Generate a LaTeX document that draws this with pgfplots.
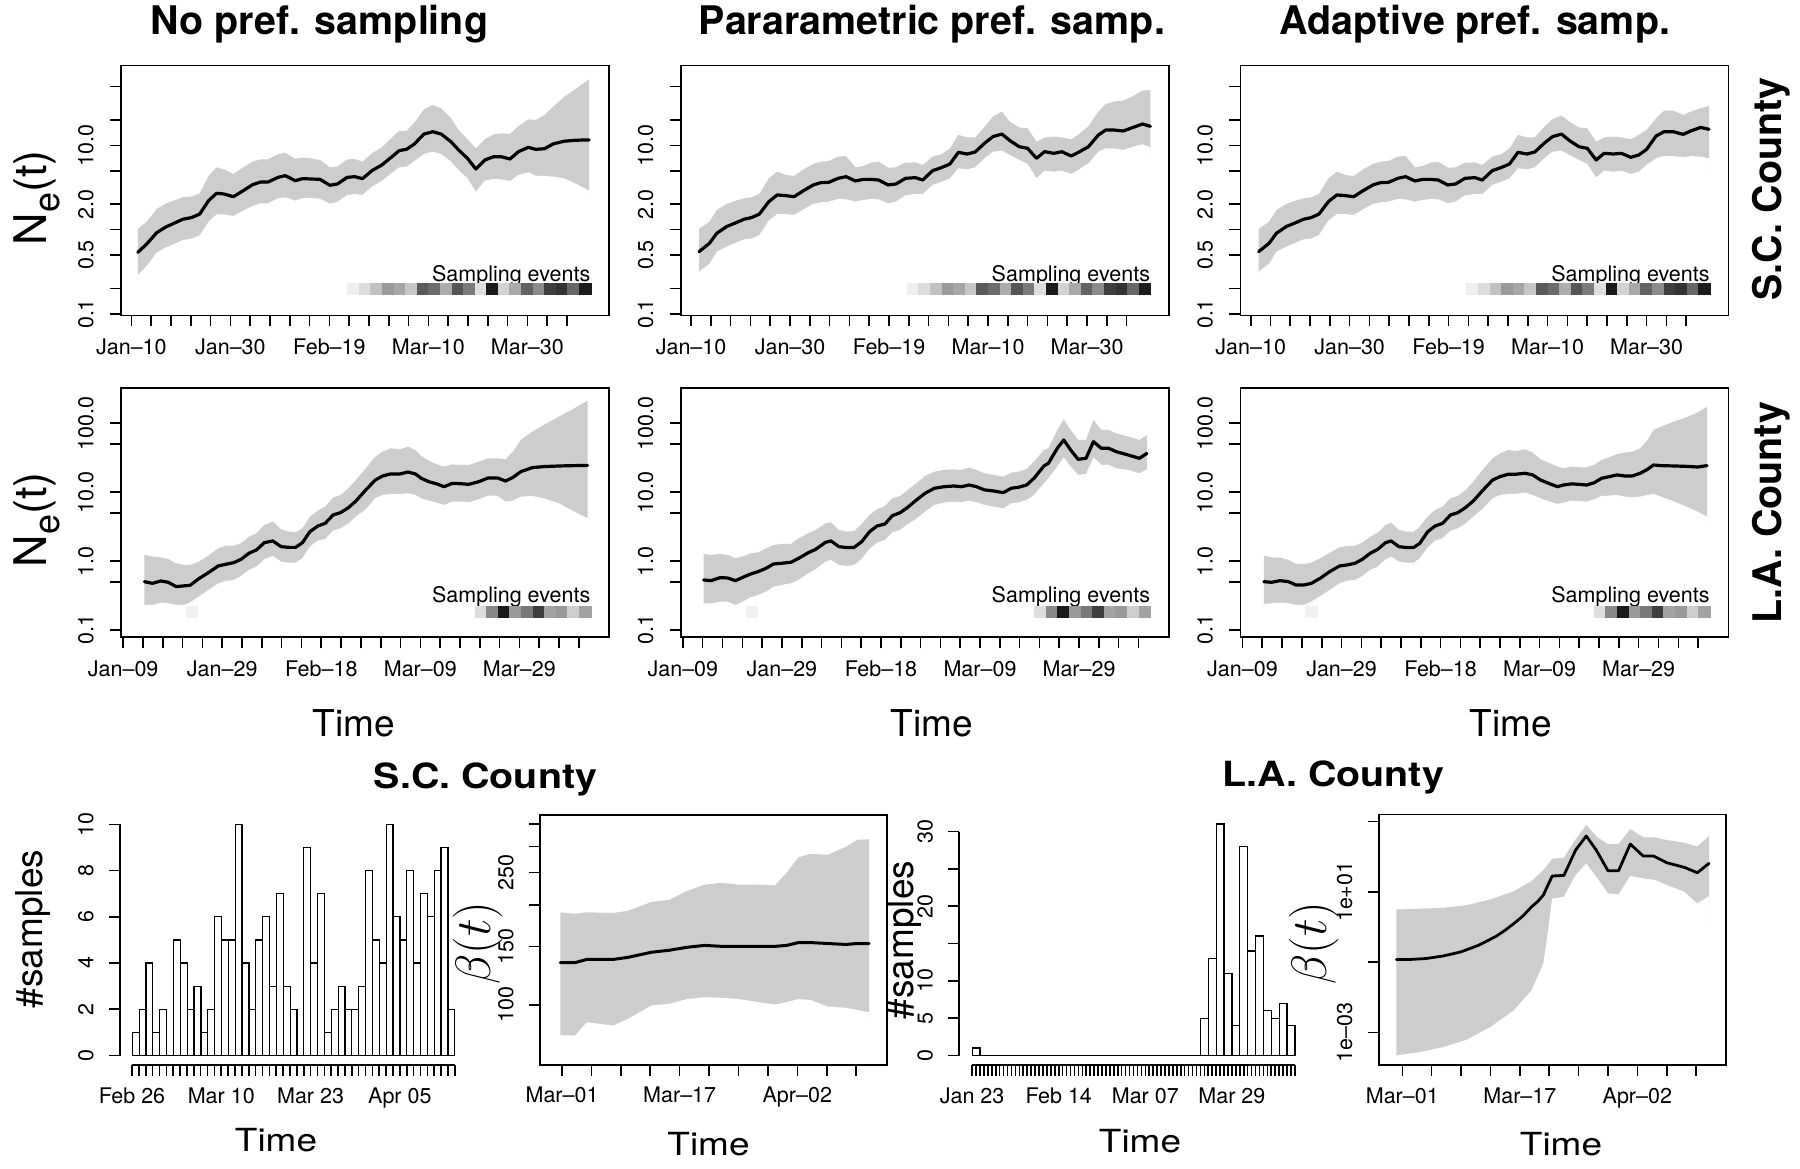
\documentclass[border=0pt]{standalone}
\usepackage{fontspec}
\setmainfont{TeX Gyre Heros}
\usepackage{pgfplots}
\pgfplotsset{compat=1.18}
\usepackage{pgfplotstable}
\pgfkeys{/pgf/number format/assume math mode=true}
\pgfplotsset{colormap={bw}{gray(0cm)=(0); gray(1cm)=(1)}}
\definecolor{band}{RGB}{205,205,205}
\newcommand{\tickfont}{\fontsize{10.75}{12}\selectfont}
\newcommand{\labfont}{\fontsize{18.5}{20}\selectfont}
\newcommand{\titfont}{\fontsize{19.7}{22}\selectfont\bfseries}
\newcommand{\nelabel}{\fontsize{22.5}{24}\selectfont N\raisebox{-0.28em}{\fontsize{18}{19}\selectfont e}(t)}

\pgfplotsset{
  rbase/.style={
    scale only axis,
    axis line style={line width=0.8pt},
    tick style={black, line width=0.8pt},
    xtick pos=left, ytick pos=left,
    major tick length=5.5pt,
    minor tick length=5.5pt,
    ticklabel style={font=\tickfont, inner sep=0pt},
    tick align=outside,
  },
  xlab/.style={xticklabel style={anchor=base, yshift=-#1}},
  ylab/.style={yticklabel style={xshift=-#1, rotate=90, anchor=base}},
  ne1/.style={rbase, width=244pt, height=124.9pt, axis on top,
    xmin=7.9, xmax=106.5, ymin=0.096, ymax=88,
    xtick={10,30,50,70,90}, xticklabels={Jan--10,Jan--30,Feb--19,Mar--10,Mar--30},
    minor xtick={14,18,22,26,34,38,42,46,54,58,62,66,74,78,82,86,94,98},
    ytick={0.1,0.5,2,10}, yticklabels={0.1,0.5,2.0,10.0}, minor ytick={0.2,1,5,20,50},
    xlab=14pt, ylab=8.35pt},
  ne2/.style={rbase, width=244pt, height=124.5pt, axis on top,
    xmin=8.56, xmax=107.1, ymin=0.0783, ymax=322,
    xtick={9,29,49,69,89}, xticklabels={Jan--09,Jan--29,Feb--18,Mar--09,Mar--29},
    minor xtick={13,17,21,25,33,37,41,45,53,57,61,65,73,77,81,85,93,97,101},
    ytick={0.1,1,10,100}, yticklabels={0.1,1.0,10.0,100.0}, minor ytick={0.5,5,50},
    xlab=14pt, ylab=8.35pt},
  meanline/.style={black, line width=1.6pt, line join=round, line cap=round},
  bandhi/.style={fill=band, draw=none},
  bandlo/.style={fill=white, draw=none},
  strip/.style={scatter, only marks, mark=square*, mark size=2.9pt, point meta=explicit,
    point meta min=0, point meta max=1,
    scatter/use mapped color={draw=mapped color, fill=mapped color}, mark options={line width=0.1pt}},
  noarrows/.style={axis line style={-}, every outer x axis line/.append style={-},
    every outer y axis line/.append style={-}, every inner x axis line/.append style={-},
    every inner y axis line/.append style={-}},
}

% Columns: d = day of year 2020, m = posterior median, lo/hi = 95% band.
% Rows holding nan only close the shaded band (hi) and its white underside (lo) below the bottom edge.

% ---------- S.C. County, no preferential sampling ----------
\pgfplotstableread{
d m lo hi
9.8 nan 0.05 nan
11.3 nan nan 0.05
11.3 0.538 0.290 1.02
13.1 0.676 0.371 1.24
15.1 0.92 0.533 1.76
17.0 1.08 0.618 2.05
18.6 1.19 0.676 2.21
20.4 1.33 0.753 2.42
22.1 1.39 0.782 2.46
23.8 1.53 0.857 2.70
25.6 2.21 1.24 4.33
27.2 2.70 1.52 5.48
28.7 2.65 1.52 5.19
30.6 2.46 1.45 4.57
32.6 2.90 1.68 5.48
34.5 3.42 1.91 6.40
36.1 3.67 2.05 6.82
37.6 3.67 2.05 6.82
39.6 4.17 2.35 7.82
41.1 4.37 2.42 8.18
43.1 3.81 2.21 6.95
44.6 4.03 2.37 7.14
46.3 3.99 2.37 7.01
48.1 3.95 2.33 6.70
50.1 3.36 2.03 5.48
51.6 3.48 2.13 5.58
53.6 4.17 2.58 6.82
55.1 4.25 2.65 6.89
56.7 4.03 2.58 6.40
58.6 5.01 3.24 8.04
60.6 5.85 3.78 9.47
62.5 7.21 4.66 12.1
64.1 8.65 5.48 14.8
65.6 8.97 5.58 14.9
67.2 10.4 6.52 18.6
69.1 13.6 7.89 26.7
70.9 14.5 8.41 30.1
72.6 13.6 7.89 27.5
74.6 11.0 6.40 20.9
76.1 8.81 5.10 15.2
77.9 7.01 4.06 11.8
79.6 5.24 2.82 9.21
81.4 6.70 3.81 11.8
83.2 7.34 3.99 13.5
84.7 7.34 3.95 13.9
86.5 6.89 3.78 13.6
88.2 8.41 4.45 16.9
90.2 9.47 4.79 20.3
91.7 8.97 4.37 20.0
93.5 9.12 4.33 22.9
95.2 10.4 4.25 28.7
97.5 11.2 4.06 37.8
99.9 11.5 3.48 47.4
102.5 11.6 2.90 60.6
102.5 nan nan 0.05
104.0 nan 0.05 nan
}\tA

% ---------- S.C. County, parametric ----------
\pgfplotstableread{
d m lo hi
10.1 nan 0.05 nan
11.6 nan nan 0.05
11.6 0.548 0.318 1.02
13.7 0.689 0.392 1.24
15.2 0.906 0.548 1.71
17.2 1.09 0.629 2.02
19.1 1.21 0.701 2.21
20.7 1.33 0.768 2.35
22.2 1.39 0.782 2.42
23.8 1.53 0.865 2.65
25.7 2.15 1.28 4.06
27.4 2.58 1.53 4.87
29.2 2.53 1.53 4.45
30.8 2.46 1.49 4.33
32.7 2.90 1.74 5.19
34.7 3.39 2.02 6.01
36.2 3.61 2.11 6.40
37.8 3.64 2.15 6.52
39.7 4.06 2.31 7.34
41.3 4.25 2.29 7.47
43.2 3.78 2.15 5.48
44.8 3.95 2.25 5.69
46.3 3.95 2.31 6.23
47.9 3.88 2.29 6.40
49.8 3.39 2.05 5.43
51.4 3.48 2.15 5.48
53.3 4.06 2.55 6.23
55.3 4.14 2.65 6.28
56.8 3.88 2.63 5.85
58.8 5.01 3.39 7.34
60.7 5.48 3.71 7.89
62.3 6.01 4.06 9.21
64.0 8.26 5.34 13.3
65.8 7.89 5.19 12.4
67.4 8.34 5.48 12.4
69.3 10.6 7.01 16.6
71.0 12.7 8.41 21.9
72.8 13.6 8.65 25.1
74.4 11.4 7.68 19.1
76.3 9.64 6.70 16.3
78.0 9.21 6.01 15.9
79.8 7.01 4.06 11.0
81.4 8.41 5.01 12.4
83.3 8.04 4.87 12.7
84.9 8.41 5.01 12.4
86.8 7.47 4.57 11.8
88.4 8.34 5.19 13.6
90.3 9.64 6.12 16.9
92.3 13.3 8.41 25.1
93.8 15.2 9.21 30.9
95.4 15.2 9.21 33.0
97.3 14.8 8.81 33.9
99.3 16.3 9.64 38.5
101.2 17.9 10.3 44.5
102.8 16.8 9.47 45.3
102.8 nan nan 0.05
104.3 nan 0.05 nan
}\tB

% ---------- S.C. County, adaptive ----------
\pgfplotstableread{
d m lo hi
10.1 nan 0.05 nan
11.6 nan nan 0.05
11.6 0.548 0.318 1.02
13.7 0.689 0.392 1.24
15.2 0.906 0.548 1.71
17.2 1.09 0.629 2.02
19.1 1.21 0.701 2.21
20.7 1.33 0.768 2.35
22.2 1.39 0.782 2.42
23.8 1.53 0.865 2.65
25.7 2.15 1.28 4.06
27.4 2.58 1.53 4.87
29.2 2.53 1.53 4.45
30.8 2.46 1.49 4.33
32.7 2.90 1.74 5.19
34.7 3.39 2.02 6.01
36.2 3.61 2.11 6.40
37.8 3.64 2.15 6.52
39.7 4.06 2.31 7.34
41.3 4.25 2.29 7.47
43.2 3.78 2.15 5.48
44.8 3.95 2.25 5.69
46.3 3.95 2.31 6.23
47.9 3.88 2.29 6.40
49.8 3.39 2.05 5.43
51.4 3.48 2.15 5.48
53.3 4.06 2.55 6.23
55.3 4.14 2.65 6.28
56.8 3.88 2.63 5.85
58.8 5.01 3.39 7.34
60.7 5.48 3.71 7.89
62.3 6.01 4.06 9.21
64.0 8.26 5.34 13.3
65.8 7.89 5.19 12.4
67.4 8.34 5.48 12.4
69.3 10.6 7.01 16.6
71.0 12.7 8.41 20.5
72.8 13.6 8.65 22.5
74.4 11.4 7.68 19.1
76.3 9.64 6.70 16.3
78.0 9.21 6.01 15.9
79.8 6.70 4.14 11.0
81.4 8.04 5.01 12.4
83.3 7.89 4.87 12.7
84.9 8.04 5.01 12.4
86.8 7.21 4.57 11.8
88.4 7.68 4.87 13.3
90.0 8.97 5.85 15.2
91.9 12.9 7.01 20.9
93.5 14.5 7.47 25.8
95.4 14.5 7.47 25.8
97.4 13.5 7.21 22.9
98.9 14.8 7.47 25.1
100.9 16.3 7.34 27.5
102.6 15.5 7.01 29.3
102.6 nan nan 0.05
104.1 nan 0.05 nan
}\tC

% ---------- L.A. County, no preferential sampling ----------
\pgfplotstableread{
d m lo hi
11.8 nan 0.05 nan
13.3 nan nan 0.05
13.3 0.502 0.231 1.23
14.9 0.475 0.231 1.16
16.6 0.514 0.250 1.13
18.1 0.492 0.244 1.07
19.7 0.426 0.231 0.929
21.2 0.436 0.231 0.877
22.5 0.445 0.250 0.877
24.3 0.556 0.305 0.982
26.2 0.679 0.381 1.20
28.2 0.849 0.475 1.53
29.7 0.898 0.514 1.67
31.3 0.948 0.532 1.67
32.8 1.06 0.608 1.81
34.4 1.30 0.743 2.26
35.9 1.45 0.830 2.53
37.5 1.85 1.06 3.34
39.2 1.96 1.19 3.74
40.9 1.62 0.982 2.89
42.5 1.58 0.948 2.67
43.8 1.58 0.948 2.62
45.2 1.85 1.10 2.99
46.7 2.67 1.62 4.42
48.3 3.23 1.98 5.40
49.8 3.53 2.09 6.17
51.4 4.67 2.77 8.33
52.9 5.05 2.99 9.11
54.5 5.97 3.53 11.4
56.0 7.45 4.42 15.0
58.0 10.8 5.64 22.2
59.9 15.0 8.15 32.8
61.4 17.2 9.11 38.7
63.0 18.4 9.42 43.3
64.9 18.4 9.42 41.9
66.5 19.6 9.63 45.8
68.0 18.4 9.11 41.0
69.2 15.9 8.15 33.5
70.7 14.2 7.54 28.7
72.3 13.2 7.05 25.4
73.8 12.0 6.52 23.5
75.4 13.4 7.29 25.4
76.9 13.3 7.29 24.8
78.8 13.0 7.13 24.8
80.8 14.2 7.88 27.7
82.7 16.1 8.91 31.0
84.6 16.1 8.91 31.0
86.2 14.5 7.29 30.0
87.7 16.4 7.54 38.7
89.3 19.9 8.61 57.3
91.6 22.7 8.81 75.6
93.9 23.5 8.15 94.5
97.0 24.0 6.89 125
100.1 24.3 5.21 165
102.8 24.5 4.18 213
102.8 nan nan 0.05
104.3 nan 0.05 nan
}\tD

% ---------- L.A. County, parametric ----------
\pgfplotstableread{
d m lo hi
11.7 nan 0.05 nan
13.2 nan nan 0.05
13.2 0.532 0.244 1.27
14.7 0.520 0.244 1.23
16.5 0.575 0.258 1.27
18.0 0.569 0.258 1.23
19.6 0.520 0.231 1.10
21.1 0.581 0.258 1.16
22.7 0.650 0.298 1.30
24.2 0.703 0.322 1.34
25.8 0.785 0.360 1.53
27.3 0.908 0.426 1.71
28.9 0.929 0.450 1.77
30.8 0.959 0.475 1.77
32.4 1.10 0.532 2.14
34.3 1.32 0.664 2.53
35.8 1.48 0.760 2.83
37.8 1.87 0.982 3.53
38.9 1.96 1.04 3.65
40.5 1.62 0.877 2.83
42.0 1.57 0.849 2.67
43.6 1.58 0.877 2.73
45.1 1.91 1.07 3.45
46.7 2.67 1.50 4.67
48.2 3.23 1.85 5.64
49.8 3.45 2.02 6.31
51.3 4.56 2.62 8.15
52.9 5.05 2.83 8.81
54.4 6.03 3.45 10.8
56.0 7.54 4.04 13.2
57.9 9.63 5.21 17.2
59.8 11.4 6.52 19.9
61.7 12.0 7.05 21.0
63.7 12.3 7.29 21.5
65.2 12.0 7.13 21.0
66.8 12.7 7.54 22.7
68.3 12.0 7.13 21.0
69.9 10.8 6.52 18.8
71.8 10.4 6.17 17.8
73.7 9.84 5.83 16.8
75.3 11.4 6.89 19.2
76.8 11.8 7.13 19.9
78.4 12.7 7.71 21.7
79.9 15.9 9.11 27.7
81.9 24.0 13.4 41.0
82.8 26.2 15.9 43.3
84.6 43.3 23.5 80.0
85.9 57.3 32.1 114
87.3 41.0 23.5 80.0
88.8 30.0 17.8 57.3
90.4 31.0 18.4 57.3
91.9 54.1 32.1 112
93.5 43.3 24.8 80.0
95.0 43.3 24.8 80.0
96.5 38.7 22.2 71.5
98.9 34.7 21.0 64.0
101.2 31.0 18.8 57.3
102.7 36.6 21.5 67.6
102.7 nan nan 0.05
104.2 nan 0.05 nan
}\tE

% ---------- L.A. County, adaptive ----------
\pgfplotstableread{
d m lo hi
11.8 nan 0.05 nan
13.3 nan nan 0.05
13.3 0.502 0.238 1.19
14.9 0.492 0.244 1.13
16.6 0.520 0.250 1.12
18.3 0.502 0.244 1.04
19.8 0.450 0.231 0.908
21.4 0.450 0.231 0.908
22.9 0.475 0.258 0.948
24.7 0.562 0.311 1.10
26.6 0.703 0.381 1.32
28.6 0.849 0.475 1.58
30.1 0.877 0.520 1.66
31.7 0.929 0.532 1.67
33.2 1.06 0.608 1.85
34.8 1.30 0.743 2.26
36.3 1.48 0.830 2.59
37.9 1.85 1.06 3.34
39.0 1.96 1.16 3.61
40.6 1.62 0.982 2.83
42.1 1.57 0.948 2.67
43.6 1.58 0.948 2.67
44.8 1.81 1.10 3.16
46.4 2.67 1.58 4.42
47.9 3.23 1.98 5.52
49.4 3.53 2.14 6.17
51.0 4.67 2.77 8.15
52.5 5.05 2.99 8.81
54.1 6.03 3.53 10.8
55.6 7.45 4.42 14.2
57.6 10.8 5.83 21.5
59.5 15.0 8.15 31.0
61.0 16.8 9.11 36.6
62.6 18.2 9.42 41.0
64.1 18.2 9.42 39.6
66.1 18.8 9.84 41.9
67.6 17.8 9.11 37.5
69.2 15.0 8.15 30.0
71.1 13.2 7.29 26.2
72.6 12.0 6.74 23.5
73.8 12.7 7.05 22.2
75.4 13.2 7.54 23.5
76.9 13.0 7.45 23.0
78.5 12.7 7.29 23.0
80.0 13.7 7.88 24.8
81.5 15.9 8.81 29.3
83.1 16.8 8.91 32.1
84.6 17.8 9.11 35.8
86.2 17.2 8.61 37.5
87.7 17.2 8.43 38.7
89.3 18.8 8.61 43.3
90.8 21.5 9.11 57.3
92.0 24.8 9.42 80.0
93.5 24.3 8.61 89.3
96.2 24.0 7.29 106
98.6 23.7 6.17 122
100.9 23.2 5.21 143
102.8 24.3 4.42 174
102.8 nan nan 0.05
104.3 nan 0.05 nan
}\tF

% ---------- sampling-event strips (gray level 0 = black, 1 = white) ----------
\pgfplotstableread{
d y c
54.79 0.2 0.93
57.13 0.2 0.86
59.47 0.2 0.75
61.82 0.2 0.60
64.16 0.2 0.65
66.50 0.2 0.77
68.84 0.2 0.35
71.18 0.2 0.42
73.53 0.2 0.67
75.87 0.2 0.33
78.21 0.2 0.48
80.55 0.2 0.87
82.90 0.2 0.10
85.24 0.2 0.82
87.58 0.2 0.66
89.92 0.2 0.38
92.26 0.2 0.54
94.61 0.2 0.24
96.95 0.2 0.20
99.29 0.2 0.40
101.63 0.2 0.11
}\sSC
\pgfplotstableread{
d y c
22.85 0.185 0.94
81.14 0.185 0.86
83.48 0.185 0.53
85.83 0.185 0.10
88.17 0.185 0.60
90.51 0.185 0.47
92.86 0.185 0.24
95.20 0.185 0.63
97.54 0.185 0.60
99.89 0.185 0.80
102.23 0.185 0.63
}\sLA

% ---------- beta(t), S.C. County (days since Mar-01) ----------
\pgfplotstableread{
d m lo hi
-0.74 nan 60 nan
-0.24 nan nan 60
-0.24 134 81 190
1.76 134 80.8 188
3.36 137 88.6 190
6.96 137 86.6 189
8.96 139 90.7 192
12.16 144 99.5 204
14.56 146 100.7 207
16.96 149 104 220
19.36 151 105.4 230
21.76 150 105 233
24.16 150 104 230
26.56 150 102 230
28.96 150 100.2 229
30.56 151 102 250
32.16 154 104 278
33.76 154 103.5 285
36.16 153 98.8 283
38.56 152 98 299
40.16 153 96.5 314
41.76 153 95 315
41.76 nan nan 60
42.26 nan 60 nan
}\bSC

% ---------- beta(t), L.A. County ----------
\pgfplotstableread{
d m
-0.8 0.119
0.8 0.119
3.2 0.127
5.6 0.151
8.0 0.197
10.4 0.304
12.8 0.548
14.0 0.81
15.2 1.26
16.4 2.03
17.6 3.74
18.4 5.2
19.2 8.04
20.4 27.9
22.0 29.1
23.6 153
25.04 383
26.4 153
28.0 39.5
29.44 39.5
31.04 226
32.8 103
34.24 103
36.0 66.8
38.4 49.2
40.16 34.7
41.76 64
}\bLAm
\pgfplotstableread{
d lo hi
-1.3 1e-4 nan
-0.8 nan 1e-4
-0.8 2.26e-4 3.15
2.4 2.82e-4 3.29
5.6 3.91e-4 3.51
8.8 6.32e-4 4.18
12.0 1.45e-3 6.05
15.2 4.32e-3 10.4
17.6 0.016 20.1
19.2 0.0916 41.3
19.84 0.81 60
20.4 6.46 86.7
22.0 7.21 92.7
23.6 29.8 308
25.04 64 787
26.56 23.9 351
28.0 8.97 226
29.44 8.39 226
31.04 27.9 605
32.8 23.9 351
34.4 21.5 351
36.0 15.5 294
38.4 10.0 247
40.16 4.66 191
41.76 7.53 383
41.76 nan 1e-4
42.26 1e-4 nan
}\bLAb

\begin{document}
\begin{tikzpicture}
\path[use as bounding box, fill=white] (0pt,0pt) rectangle (900pt,584pt);

% ===== Row 1: S.C. County =====
\begin{axis}[ymode=log, ne1, at={(60.5pt,426.25pt)}, anchor=south west]
  \addplot[bandhi] table[x=d,y=hi]{\tA};
  \addplot[bandlo] table[x=d,y=lo]{\tA};
  \addplot[meanline] table[x=d,y=m]{\tA};
  \addplot[strip] table[x=d,y=y,meta=c]{\sSC};
  \node[anchor=base east, font=\tickfont, inner sep=0pt] at (axis cs:102.8,0.2415) {Sampling events};
\end{axis}
\begin{axis}[ymode=log, ne1, at={(340.35pt,426.25pt)}, anchor=south west]
  \addplot[bandhi] table[x=d,y=hi]{\tB};
  \addplot[bandlo] table[x=d,y=lo]{\tB};
  \addplot[meanline] table[x=d,y=m]{\tB};
  \addplot[strip] table[x=d,y=y,meta=c]{\sSC};
  \node[anchor=base east, font=\tickfont, inner sep=0pt] at (axis cs:102.8,0.2415) {Sampling events};
\end{axis}
\begin{axis}[ymode=log, ne1, at={(620.15pt,426.25pt)}, anchor=south west]
  \addplot[bandhi] table[x=d,y=hi]{\tC};
  \addplot[bandlo] table[x=d,y=lo]{\tC};
  \addplot[meanline] table[x=d,y=m]{\tC};
  \addplot[strip] table[x=d,y=y,meta=c]{\sSC};
  \node[anchor=base east, font=\tickfont, inner sep=0pt] at (axis cs:102.8,0.2415) {Sampling events};
\end{axis}

% ===== Row 2: L.A. County =====
\begin{axis}[ymode=log, ne2, at={(60.5pt,265.35pt)}, anchor=south west]
  \addplot[bandhi] table[x=d,y=hi]{\tD};
  \addplot[bandlo] table[x=d,y=lo]{\tD};
  \addplot[meanline] table[x=d,y=m]{\tD};
  \addplot[strip] table[x=d,y=y,meta=c]{\sLA};
  \node[anchor=base east, font=\tickfont, inner sep=0pt] at (axis cs:103.4,0.252) {Sampling events};
\end{axis}
\begin{axis}[ymode=log, ne2, at={(340.35pt,265.35pt)}, anchor=south west]
  \addplot[bandhi] table[x=d,y=hi]{\tE};
  \addplot[bandlo] table[x=d,y=lo]{\tE};
  \addplot[meanline] table[x=d,y=m]{\tE};
  \addplot[strip] table[x=d,y=y,meta=c]{\sLA};
  \node[anchor=base east, font=\tickfont, inner sep=0pt] at (axis cs:103.4,0.252) {Sampling events};
\end{axis}
\begin{axis}[ymode=log, ne2, at={(620.15pt,265.35pt)}, anchor=south west]
  \addplot[bandhi] table[x=d,y=hi]{\tF};
  \addplot[bandlo] table[x=d,y=lo]{\tF};
  \addplot[meanline] table[x=d,y=m]{\tF};
  \addplot[strip] table[x=d,y=y,meta=c]{\sLA};
  \node[anchor=base east, font=\tickfont, inner sep=0pt] at (axis cs:103.4,0.252) {Sampling events};
\end{axis}

% ===== Bottom row: S.C. County samples =====
\begin{axis}[rbase, at={(60pt,56.25pt)}, anchor=south west,
  width=167.4pt, height=115.6pt, xmin=-1.79, xmax=47, ymin=0, ymax=10,
  axis x line=none, axis y line=left, noarrows, tick align=outside,
  ytick={0,2,4,6,8,10}, ylab=7.85pt, clip=false]
  \addplot[ybar interval, fill=white, draw=black, line width=0.6pt] coordinates {
  (0,1)(1,2)(2,4)(3,1)(4,2)(5,0)(6,5)(7,4)(8,2)(9,3)(10,1)(11,2)(12,6)(13,5)(14,5)(15,10)
  (16,4)(17,2)(18,5)(19,6)(20,3)(21,7)(22,3)(23,2)(24,0)(25,9)(26,4)(27,7)(28,1)(29,2)
  (30,3)(31,2)(32,2)(33,3)(34,8)(35,5)(36,4)(37,10)(38,6)(39,5)(40,8)(41,4)(42,7)(43,6)
  (44,8)(45,9)(46,2)(47,0)};
\end{axis}
\begin{axis}[rbase, at={(66pt,51.5pt)}, anchor=south west, width=161.4pt, height=10pt,
  xmin=0, xmax=47, ymin=0, ymax=1, axis y line=none, axis x line=bottom, noarrows, tick align=outside,
  xtick={0,13,26,39}, xticklabels={Feb 26,Mar 10,Mar 23,Apr 05}, minor xtick={0,1,...,47},
  xlab=13.5pt]
  \addplot[draw=none] coordinates {(0,0)};
\end{axis}

% ===== Bottom row: S.C. County beta =====
\begin{axis}[ymode=log, rbase, axis on top, at={(270pt,51.5pt)}, anchor=south west, width=173.5pt, height=125pt,
  xmin=-3.0, xmax=44.2, ymin=65.9, ymax=373,
  xtick={0,16,32}, xticklabels={Mar--01,Mar--17,Apr--02}, minor xtick={4,8,12,20,24,28,36,40},
  ytick={100,150,250}, yticklabels={100,150,250}, minor ytick={200,300,350},
  xlab=13.5pt, ylab=7.85pt]
  \addplot[bandhi] table[x=d,y=hi]{\bSC};
  \addplot[bandlo] table[x=d,y=lo]{\bSC};
  \addplot[meanline, line width=1.5pt] table[x=d,y=m]{\bSC};
\end{axis}

% ===== Bottom row: L.A. County samples =====
\begin{axis}[rbase, at={(479.6pt,56.25pt)}, anchor=south west,
  width=167.85pt, height=112pt, xmin=-3.28, xmax=82, ymin=0, ymax=30,
  axis x line=none, axis y line=left, noarrows, tick align=outside,
  ytick={0,5,10,20,30}, minor ytick={15,25}, ylab=7.85pt, clip=false]
  \addplot[ybar interval, fill=white, draw=black, line width=0.6pt] coordinates {
  (0,1)(2,0)(4,0)(6,0)(8,0)(10,0)(12,0)(14,0)(16,0)(18,0)(20,0)(22,0)(24,0)(26,0)(28,0)
  (30,0)(32,0)(34,0)(36,0)(38,0)(40,0)(42,0)(44,0)(46,0)(48,0)(50,0)(52,0)(54,0)(56,0)
  (58,5)(60,13)(62,31)(64,11)(66,4)(68,28)(70,14)(72,16)(74,6)(76,5)(78,7)(80,4)(82,0)};
\end{axis}
\begin{axis}[rbase, at={(486.05pt,51.5pt)}, anchor=south west, width=161.4pt, height=10pt,
  xmin=0, xmax=82, ymin=0, ymax=1, axis y line=none, axis x line=bottom, noarrows, tick align=outside,
  xtick={0,22,44,66}, xticklabels={Jan 23,Feb 14,Mar 07,Mar 29}, minor xtick={0,1,...,82},
  xlab=13.5pt]
  \addplot[draw=none] coordinates {(0,0)};
\end{axis}

% ===== Bottom row: L.A. County beta =====
\begin{axis}[ymode=log, rbase, axis on top, at={(689.4pt,51.5pt)}, anchor=south west, width=173.7pt, height=125.35pt,
  xmin=-3.2, xmax=44.1, ymin=1.21e-4, ymax=1580,
  xtick={0,16,32}, xticklabels={Mar--01,Mar--17,Apr--02}, minor xtick={4,8,12,20,24,28,36,40},
  ytick={1e-3,1e1}, yticklabels={1e--03,1e+01}, minor ytick={1e-1,1e3},
  xlab=13.5pt, ylab=7.85pt]
  \addplot[bandhi] table[x=d,y=hi]{\bLAb};
  \addplot[bandlo] table[x=d,y=lo]{\bLAb};
  \addplot[meanline, line width=1.4pt] table[x=d,y=m]{\bLAm};
\end{axis}

% ===== Titles and labels =====
\node[anchor=base, font=\titfont] at (159.75pt,566.75pt) {No pref. sampling};
\node[anchor=base, font=\titfont] at (466pt,566.75pt) {Pararametric pref. samp.};
\node[anchor=base, font=\titfont] at (737.5pt,566.75pt) {Adaptive pref. samp.};
\node[rotate=90, font=\titfont] at (885.5pt,489.5pt) {S.C. County};
\node[rotate=90, font=\titfont] at (885.75pt,327.5pt) {L.A. County};

\node[rotate=90, anchor=base, inner sep=0pt] at (23.5pt,485pt) {\nelabel};
\node[rotate=90, anchor=base, inner sep=0pt] at (23.5pt,324pt) {\nelabel};

\node[anchor=base, font=\labfont] at (177pt,215.65pt) {Time};
\node[anchor=base, font=\labfont] at (466pt,215.65pt) {Time};
\node[anchor=base, font=\labfont] at (755.5pt,215.65pt) {Time};

\node[anchor=base, font=\titfont, yscale=0.88] at (242.75pt,189.8pt) {S.C. County};
\node[anchor=base, font=\titfont, yscale=0.88] at (666.5pt,190.7pt) {L.A. County};

\node[rotate=90, anchor=base, font=\labfont] at (21pt,119.5pt) {\#samples};
\node[rotate=90, anchor=base, font=\labfont] at (456.5pt,114pt) {\#samples};
\node[rotate=90, font=\fontsize{25.5}{28}\selectfont] at (239pt,112.5pt) {$\beta(t)$};
\node[rotate=90, font=\fontsize{25.5}{28}\selectfont] at (657pt,112.5pt) {$\beta(t)$};

\node[anchor=base, font=\labfont, yscale=0.86] at (138pt,8.15pt) {Time};
\node[anchor=base, font=\labfont, yscale=0.86] at (354.25pt,6.5pt) {Time};
\node[anchor=base, font=\labfont, yscale=0.86] at (570pt,7.5pt) {Time};
\node[anchor=base, font=\labfont, yscale=0.86] at (780.5pt,6.5pt) {Time};
\end{tikzpicture}
\end{document}
